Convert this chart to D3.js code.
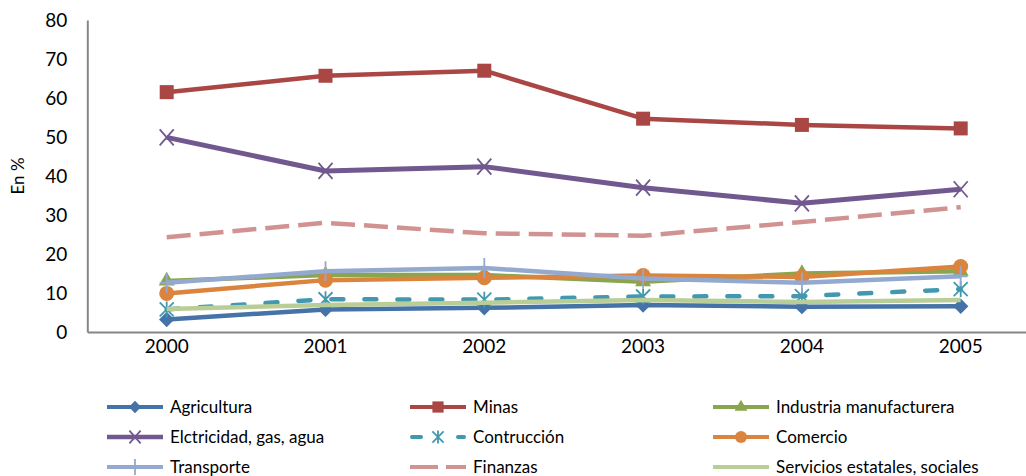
<!DOCTYPE html>
<html>
<head>
<meta charset="utf-8">
<script src="https://cdn.jsdelivr.net/npm/d3@7"></script>
<style>
  html, body { margin: 0; padding: 0; background: #fff; }
  svg { display: block; font-family: Lato, "Open Sans", sans-serif; }
</style>
</head>
<body>
<svg id="chart" width="1026" height="476"></svg>
<script>
// Years on the category axis
const years = ["2000", "2001", "2002", "2003", "2004", "2005"];
const yTicks = [0, 10, 20, 30, 40, 50, 60, 70, 80];

// Share by sector, in %
const agricultura  = [3.2, 5.8, 6.2, 6.9, 6.5, 6.6];
const minas        = [61.5, 65.7, 67.0, 54.7, 53.1, 52.2];
const industria    = [13.1, 14.6, 14.6, 12.9, 15.0, 15.6];
const electricidad = [49.9, 41.3, 42.4, 37.0, 33.0, 36.6];
const construccion = [5.8, 8.4, 8.3, 9.1, 9.2, 11.0];
const comercio     = [9.9, 13.3, 13.9, 14.5, 14.1, 16.8];
const transporte   = [12.6, 15.6, 16.4, 13.7, 12.6, 14.3];
const finanzas     = [24.3, 28.0, 25.3, 24.7, 28.2, 32.0];
const servicios    = [5.9, 6.9, 7.5, 8.2, 7.7, 8.2];

const seriesNames = [
  "Agricultura", "Minas", "Industria manufacturera",
  "Elctricidad, gas, agua", "Contrucción", "Comercio",
  "Transporte", "Finanzas", "Servicios estatales, sociales"
];
const seriesValues = [agricultura, minas, industria, electricidad, construccion,
                      comercio, transporte, finanzas, servicios];

// Visual style per series (legendDash: pattern used for the short legend sample)
const styles = [
  { color: "#4572A7", width: 4.5, dash: null, marker: "diamond" },
  { color: "#AA4643", width: 4.5, dash: null, marker: "square" },
  { color: "#89A54E", width: 4.5, dash: null, marker: "triangle" },
  { color: "#71588F", width: 5,   dash: null, marker: "x" },
  { color: "#4198AF", width: 4.5, dash: "12,21", legendDash: "9,37,9", cap: "round", marker: "star" },
  { color: "#DB843D", width: 4.5, dash: null, marker: "circle" },
  { color: "#93A9CF", width: 4.5, dash: null, marker: "plus" },
  { color: "#D19392", width: 4.5, dash: "24,9", legendDash: "28,8", marker: null },
  { color: "#B9CD96", width: 4.5, dash: null, marker: null }
];

const svg = d3.select("#chart");
const plotLeft = 87.3, plotTop = 20, plotBottom = 332;
const x = d3.scaleBand().domain(years).range([plotLeft, plotLeft + 158.8 * 6]);
const y = d3.scaleLinear().domain([0, 80]).range([plotBottom, plotTop]);
const cx = d => x(d) + x.bandwidth() / 2;

// Axes
const axisColor = "#868686";
const yAxis = svg.append("g").attr("transform", `translate(${plotLeft},0)`)
  .call(d3.axisLeft(y).tickValues(yTicks).tickSize(0).tickPadding(20).tickFormat(d3.format("d")));
yAxis.select(".domain").attr("stroke", axisColor).attr("stroke-width", 2);
yAxis.selectAll("text").attr("font-size", 19).attr("fill", "#000")
  .attr("font-family", "Lato, sans-serif");

const xAxis = svg.append("g").attr("transform", `translate(0,${plotBottom})`)
  .call(d3.axisBottom(x).tickSize(0).tickPadding(8));
xAxis.select(".domain").attr("stroke", axisColor).attr("stroke-width", 2);
xAxis.selectAll("text").attr("font-size", 19).attr("fill", "#000")
  .attr("font-family", "Lato, sans-serif");

svg.append("text")
  .attr("transform", `translate(24,${(plotTop + plotBottom) / 2}) rotate(-90)`)
  .attr("text-anchor", "middle")
  .attr("font-size", 17)
  .text("En %");

// Marker drawing
function drawMarker(g, type, color, px, py, scale = 1) {
  const s = scale;
  switch (type) {
    case "diamond":
      g.append("path").attr("d", d3.symbol().type(d3.symbolDiamond2).size(150 * s * s)())
        .attr("transform", `translate(${px},${py})`).attr("fill", color);
      break;
    case "square":
      g.append("rect").attr("x", px - 7 * s).attr("y", py - 7 * s)
        .attr("width", 14 * s).attr("height", 14 * s).attr("fill", color);
      break;
    case "triangle":
      g.append("path").attr("d", d3.symbol().type(d3.symbolTriangle).size(110 * s * s)())
        .attr("transform", `translate(${px},${py})`).attr("fill", color);
      break;
    case "circle":
      g.append("circle").attr("cx", px).attr("cy", py).attr("r", 7.5 * s).attr("fill", color);
      break;
    case "x":
      g.append("path").attr("d", `M${px - 7 * s},${py - 8 * s}L${px + 7 * s},${py + 8 * s}M${px + 7 * s},${py - 8 * s}L${px - 7 * s},${py + 8 * s}`)
        .attr("stroke", color).attr("stroke-width", 1.8).attr("fill", "none");
      break;
    case "star":
      g.append("path").attr("d", `M${px - 7 * s},${py - 7 * s}L${px + 7 * s},${py + 7 * s}M${px + 7 * s},${py - 7 * s}L${px - 7 * s},${py + 7 * s}M${px},${py - 8 * s}L${px},${py + 8 * s}`)
        .attr("stroke", color).attr("stroke-width", 1.8).attr("fill", "none");
      break;
    case "plus":
      g.append("path").attr("d", `M${px},${py - 10 * s}L${px},${py + 10 * s}M${px - 7 * s},${py}L${px + 7 * s},${py}`)
        .attr("stroke", color).attr("stroke-width", 1.8).attr("fill", "none");
      break;
  }
}

// Series lines and markers
const line = d3.line().x((d, i) => cx(years[i])).y(d => y(d));
const plot = svg.append("g");
seriesValues.forEach((vals, k) => {
  const st = styles[k];
  const g = plot.append("g");
  g.append("path").datum(vals).attr("d", line)
    .attr("fill", "none").attr("stroke", st.color).attr("stroke-width", st.width)
    .attr("stroke-linejoin", "round")
    .attr("stroke-linecap", st.cap || "butt")
    .attr("stroke-dasharray", st.dash);
  if (st.marker) vals.forEach((v, i) => drawMarker(g, st.marker, st.color, cx(years[i]), y(v)));
});

// Legend: three columns, three rows
const colX = [107, 410, 713];
const rowY = [407, 437, 467];
const legend = svg.append("g");
seriesNames.forEach((name, k) => {
  const st = styles[k];
  const lx = colX[k % 3], ly = rowY[Math.floor(k / 3)];
  const capPad = st.cap === "round" ? 2 : 0;
  const g = legend.append("g");
  g.append("line").attr("x1", lx + capPad).attr("x2", lx + 56 - capPad).attr("y1", ly).attr("y2", ly)
    .attr("stroke", st.color).attr("stroke-width", st.width - 0.5)
    .attr("stroke-linecap", st.cap || "butt")
    .attr("stroke-dasharray", st.legendDash || null);
  if (st.marker) drawMarker(g, st.marker, st.color, lx + 28, ly, 0.8);
  g.append("text").attr("x", lx + 63).attr("y", ly).attr("dy", "0.35em")
    .attr("font-size", 17).text(name);
});
</script>
</body>
</html>
